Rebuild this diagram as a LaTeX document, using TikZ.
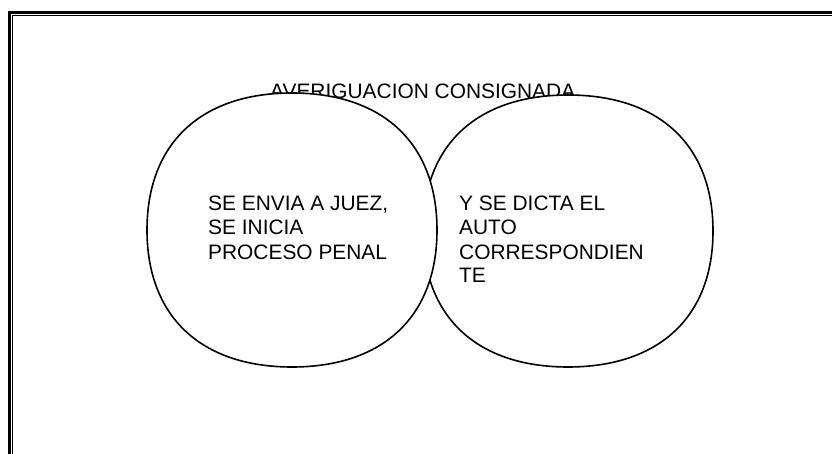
\documentclass[tikz,border=0pt]{standalone}
\usepackage{fontspec}
\setmainfont{Liberation Sans}
\tikzset{
  txt/.style={anchor=base west, inner sep=0pt, font=\fontsize{20.9}{24}\selectfont},
  oval/.style={draw, fill=white, line width=1.6pt},
}
\begin{document}
\begin{tikzpicture}[x=1pt, y=-1pt]
\useasboundingbox (0,0) rectangle (832,454);
% frame
\coordinate (fa) at (9.5,454);
\coordinate (fb) at (9.5,12.5);
\coordinate (fc) at (832,12.5);
\coordinate (ga) at (12.5,454);
\coordinate (gb) at (12.5,15.5);
\coordinate (gc) at (832,15.5);
\draw[line width=3pt] (fa) -- (fb) -- (fc);
\draw[line width=1pt] (ga) -- (gb) -- (gc);
% title
\node[txt] (title) at (270,99) {AVERIGUACION CONSIGNADA};
% right oval
\draw[oval] (713,231) .. controls (713,316.7) and (659.4,367) .. (568,367)
  .. controls (476.6,367) and (423,316.7) .. (423,231)
  .. controls (423,145.3) and (476.6,95) .. (568,95)
  .. controls (659.4,95) and (713,145.3) .. (713,231) -- cycle;
% left oval
\draw[oval] (437,230) .. controls (437,316.3) and (383.4,367) .. (292,367)
  .. controls (200.6,367) and (147,316.3) .. (147,230)
  .. controls (147,143.7) and (200.6,93) .. (292,93)
  .. controls (383.4,93) and (437,143.7) .. (437,230) -- cycle;
% texts
\node[txt] (l1) at (208,211) {SE ENVIA A JUEZ,};
\node[txt] (l2) at (208,235) {SE INICIA};
\node[txt] (l3) at (208,259) {PROCESO PENAL};
\node[txt] (r1) at (459,211) {Y SE DICTA EL};
\node[txt] (r2) at (459,235) {AUTO};
\node[txt] (r3) at (459,259) {CORRESPONDIEN};
\node[txt] (r4) at (459,283) {TE};
\end{tikzpicture}
\end{document}
